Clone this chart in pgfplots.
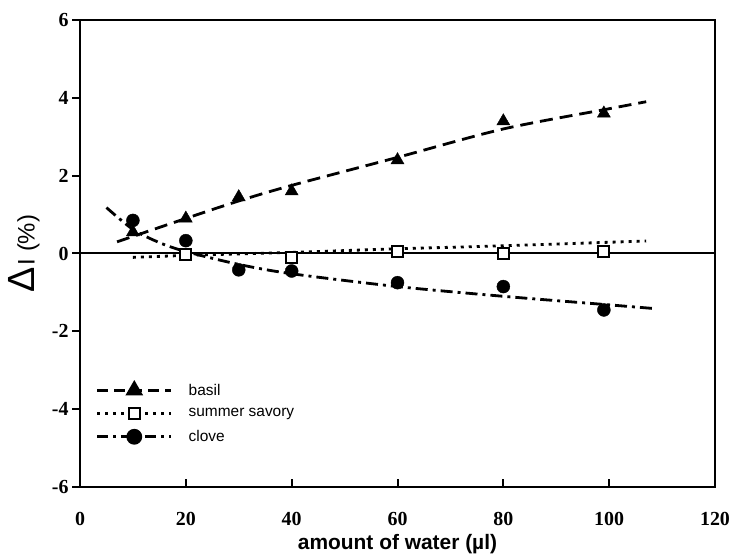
\documentclass[border=0pt]{standalone}
\usepackage{fontspec}
\setmainfont{Liberation Serif}
\setsansfont{Liberation Sans}
\usepackage{pgfplots}
\pgfplotsset{compat=1.18}
\usetikzlibrary{calc}

\begin{document}
\begin{tikzpicture}
\begin{axis}[
    scale only axis,
    width=635bp, height=467bp,
    xmin=0, xmax=120,
    ymin=-6, ymax=6,
    xtick={0,20,...,120},
    ytick={-6,-4,...,6},
    tick pos=left,
    xtick align=inside,
    ytick align=outside,
    major tick length=8bp,
    every tick/.style={black, line width=2bp},
    axis line style={line width=2.6bp},
    /pgf/number format/assume math mode=true,
    ticklabel style={font=\fontsize{20}{22}\selectfont\bfseries},
    xticklabel style={yshift=-22bp},
    xlabel={amount of water (µl)},
    xlabel style={font=\fontsize{21}{24}\selectfont\sffamily\bfseries, yshift=-2bp},
    ylabel={{\fontsize{38}{38}\selectfont\sffamily Δ}\,{\fontsize{24}{26}\selectfont\sffamily I (\%)}},
    ylabel style={at={(axis description cs:-0.088,0.5)}, anchor=center},
    legend style={draw=none, fill=none, at={(axis description cs:0.02,0.085)}, anchor=south west,
        font=\fontsize{15.5}{17}\selectfont\sffamily, row sep=8bp},
    legend cell align=left,
    legend image code/.code={%
        \draw[line width=2.8bp, mark repeat=2, mark phase=2, #1] plot coordinates {(0bp,0bp) (37bp,0bp) (74bp,0bp)};
        \path (88bp,0bp);},
    every mark/.append style={solid},
]
% zero line
\addplot[forget plot, black, line width=2bp] coordinates {(0,0) (120,0)};

% basil
\addplot[forget plot, black, line width=2.8bp, dash pattern=on 13bp off 7bp, smooth]
  coordinates {(7,0.3) (20,0.9) (30,1.35) (40,1.75) (60,2.47) (80,3.2) (100,3.72) (107,3.9)};
\addplot[forget plot, only marks, mark=triangle*, mark size=7.5bp, black]
  coordinates {(10,0.55) (20,0.9) (30,1.45) (40,1.6) (60,2.4) (80,3.4) (99,3.6)};

% summer savory
\addplot[forget plot, black, line width=2.8bp, dash pattern=on 3bp off 5bp, smooth]
  coordinates {(10,-0.1) (20,-0.05) (40,0.03) (60,0.12) (80,0.2) (107,0.32)};
\addplot[forget plot, only marks, mark=square*, mark size=5.5bp, black, fill=white, line width=2bp]
  coordinates {(20,-0.03) (40,-0.1) (60,0.05) (80,0.0) (99,0.05)};

% clove
\addplot[forget plot, black, line width=2.8bp, dash pattern=on 12bp off 5bp on 3bp off 5bp, smooth]
  coordinates {(5,1.18) (10,0.62) (15,0.28) (20,0.05) (30,-0.28) (40,-0.52) (60,-0.85) (80,-1.1) (100,-1.32) (109,-1.42)};
\addplot[forget plot, only marks, mark=*, mark size=6.5bp, black]
  coordinates {(10,0.85) (20,0.33) (30,-0.42) (40,-0.45) (60,-0.75) (80,-0.85) (99,-1.45)};

\addlegendimage{black, line width=2.8bp, dash pattern=on 11bp off 6bp, mark=triangle*, mark size=7.5bp, mark options={solid}}
\addlegendentry{basil}
\addlegendimage{black, line width=2.8bp, dash pattern=on 3bp off 5bp, mark=square*, mark size=5.5bp, mark options={solid, fill=white, line width=2bp}}
\addlegendentry{summer savory}
\addlegendimage{black, line width=2.8bp, dash pattern=on 11bp off 5bp on 3bp off 5bp, mark=*, mark size=6.5bp, mark options={solid}}
\addlegendentry{clove}
\end{axis}
\pgfresetboundingbox
\path ($(current axis.south west)+(-80bp,-73bp)$) rectangle ($(current axis.north east)+(17bp,20bp)$);
\end{tikzpicture}
\end{document}
